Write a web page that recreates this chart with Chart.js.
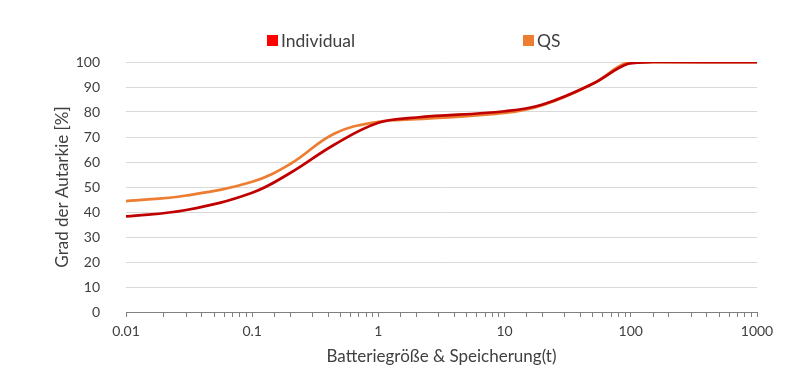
<!DOCTYPE html>
<html>
<head>
<meta charset="utf-8">
<script src="https://cdn.jsdelivr.net/npm/chart.js@4/dist/chart.umd.min.js"></script>
<style>
  html, body { margin: 0; padding: 0; background: #fff; }
  #wrap { width: 800px; height: 389px; }
</style>
</head>
<body>
<div id="wrap"><canvas id="chart" width="800" height="389"></canvas></div>
<script>
// Batteriegröße (log) und Grad der Autarkie
var batterySize = [0.01, 0.03, 0.1, 0.2, 0.45, 1, 2, 10, 20, 50, 95, 150, 1000];
var individual  = [38.2, 40.8, 47.7, 55.6, 67, 75.7, 77.8, 80.3, 83, 91.3, 99.3, 100, 100];
var qs          = [44.3, 46.6, 52.1, 59.2, 71.4, 76.1, 77.1, 79.6, 82.7, 91.3, 100, 100, 100];
var seriesNames = ['Individual', 'QS'];
var decadeTicks = [0.01, 0.1, 1, 10, 100, 1000];

var lineColors = ['#c00000', '#ed7d31'];
var legendColors = ['#ff0000', '#ed7d31'];
var legendX = [267, 523];
var textColor = '#404040';

function toPoints(xs, ys) {
    return xs.map(function (x, i) { return { x: x, y: ys[i] }; });
}

// Legende von Hand zeichnen (weiter Abstand zwischen den Einträgen)
var manualLegend = {
    id: 'manualLegend',
    afterDraw: function (chart) {
        var ctx = chart.ctx;
        ctx.save();
        ctx.font = '17.5px Lato';
        ctx.textBaseline = 'middle';
        chart.data.datasets.forEach(function (ds, i) {
            ctx.fillStyle = legendColors[i];
            ctx.fillRect(legendX[i], 35, 11, 11);
            ctx.fillStyle = textColor;
            ctx.fillText(ds.label, legendX[i] + 14, 41);
        });
        ctx.restore();
    }
};

new Chart(document.getElementById('chart'), {
    type: 'line',
    data: {
        datasets: [
            {
                label: seriesNames[0],
                data: toPoints(batterySize, individual),
                borderColor: lineColors[0],
                backgroundColor: lineColors[0],
                borderWidth: 2.75,
                pointRadius: 0,
                tension: 0.4
            },
            {
                label: seriesNames[1],
                data: toPoints(batterySize, qs),
                borderColor: lineColors[1],
                backgroundColor: lineColors[1],
                borderWidth: 2.75,
                pointRadius: 0,
                tension: 0.4
            }
        ]
    },
    options: {
        responsive: false,
        animation: false,
        layout: { padding: { top: 62, right: 43, left: 0, bottom: 0 } },
        plugins: {
            legend: { display: false },
            tooltip: { enabled: false }
        },
        scales: {
            x: {
                type: 'logarithmic',
                min: 0.01,
                max: 1000,
                afterFit: function (scale) { scale.height = 77; },
                border: { display: true, color: '#808080', width: 1 },
                grid: { drawOnChartArea: false, drawTicks: true, tickLength: 5, color: '#808080' },
                ticks: {
                    autoSkip: false,
                    maxRotation: 0,
                    padding: 6,
                    color: textColor,
                    font: { family: 'Lato', size: 14 },
                    callback: function (value) {
                        var l = Math.log10(value);
                        if (Math.abs(l - Math.round(l)) < 1e-6) {
                            var d = decadeTicks.find(function (t) { return Math.abs(Math.log10(t) - l) < 1e-6; });
                            return d !== undefined ? String(d) : '';
                        }
                        return '';
                    }
                },
                title: {
                    display: true,
                    text: 'Batteriegröße & Speicherung(t)',
                    color: textColor,
                    font: { family: 'Lato', size: 17 },
                    padding: { top: 0, bottom: 22 }
                }
            },
            y: {
                min: 0,
                max: 100,
                afterFit: function (scale) { scale.width = 126; },
                border: { display: false },
                grid: { color: '#d9d9d9', lineWidth: 1, drawTicks: false },
                ticks: {
                    stepSize: 10,
                    padding: 26,
                    color: textColor,
                    font: { family: 'Lato', size: 14 }
                },
                title: {
                    display: true,
                    text: 'Grad der Autarkie [%]',
                    color: textColor,
                    font: { family: 'Lato', size: 17 },
                    padding: { top: 52, bottom: 0 }
                }
            }
        }
    },
    plugins: [manualLegend]
});
</script>
</body>
</html>
